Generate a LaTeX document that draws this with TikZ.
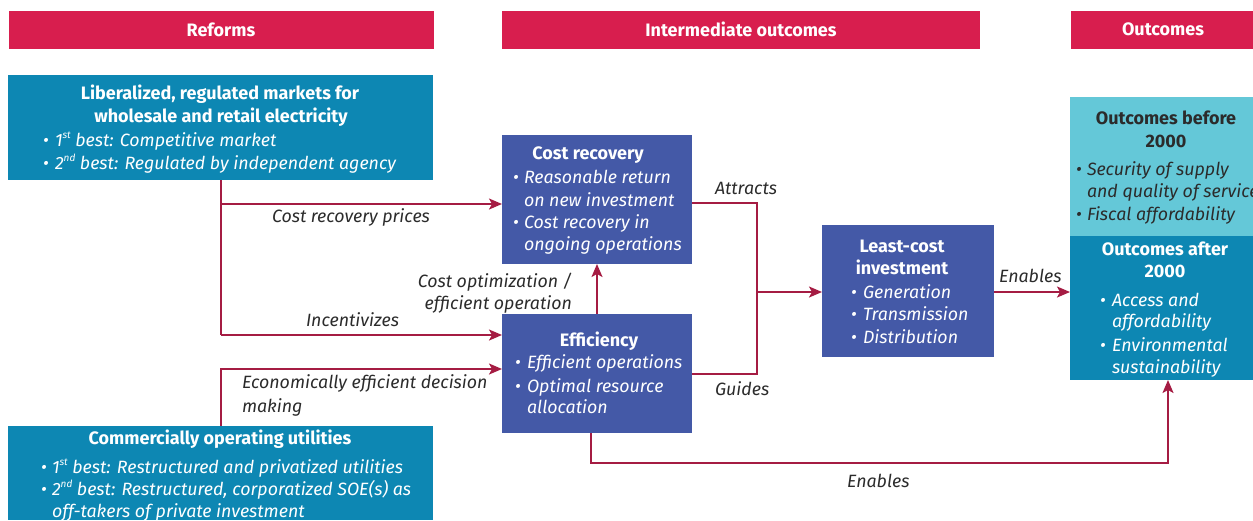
\documentclass[tikz,border=0pt]{standalone}
\usepackage{fontspec}
\setmainfont{Fira Sans}
\usetikzlibrary{arrows.meta}
\definecolor{hdr}{HTML}{D81E4E}
\definecolor{arrc}{HTML}{A51C43}
\definecolor{teal}{HTML}{0D87B3}
\definecolor{bluebx}{HTML}{4459A7}
\definecolor{lcyan}{HTML}{64C8D8}
\definecolor{txt}{HTML}{2B2B2B}
\newcommand{\sups}[1]{\raisebox{0.75ex}{\fontsize{10}{10}\selectfont #1}}
\begin{document}
\begin{tikzpicture}[x=1pt,y=-1pt,
  every node/.style={inner sep=0pt, outer sep=0pt},
  hdrbox/.style={fill=hdr, anchor=north west},
  bx/.style={anchor=north west},
  hdrtxt/.style={anchor=base, text=white, font=\fontsize{18}{21}\selectfont\bfseries},
  ttl/.style={anchor=base, text=white, font=\fontsize{18}{21}\selectfont\bfseries},
  ttld/.style={anchor=base, text=txt, font=\fontsize{18}{21}\selectfont\bfseries},
  bul/.style={anchor=base west, text=white, font=\fontsize{17.8}{21}\selectfont\itshape},
  buld/.style={anchor=base west, text=txt, font=\fontsize{17.8}{21}\selectfont\itshape},
  lbl/.style={anchor=base west, text=txt, font=\fontsize{17.8}{21}\selectfont\itshape},
  arr/.style={draw=arrc, line width=1.8pt, -{Stealth[length=13pt,width=11pt,inset=3pt]}},
  ln/.style={draw=arrc, line width=1.8pt}
]
\useasboundingbox (0,0) rectangle (1253,520);
\newcommand{\dotb}{\textbullet}
% headers
\node[hdrbox, minimum width=425pt, minimum height=38pt] (h1) at (9,11) {};
\node[hdrbox, minimum width=478pt, minimum height=38pt] (h2) at (502,11) {};
\node[hdrbox, minimum width=182pt, minimum height=38pt] (h3) at (1071,11) {};
\node[hdrtxt] (h1t) at (221,36) {Reforms};
\node[hdrtxt] (h2t) at (741,36) {Intermediate outcomes};
\node[hdrtxt] (h3t) at (1163,35) {Outcomes};
% boxes
\node[bx, fill=teal, minimum width=425pt, minimum height=105pt] (lib) at (8,75) {};
\node[bx, fill=teal, minimum width=425pt, minimum height=94pt] (com) at (8,426) {};
\node[bx, fill=bluebx, minimum width=190pt, minimum height=129pt] (cr) at (502,135) {};
\node[bx, fill=bluebx, minimum width=190pt, minimum height=119pt] (eff) at (502,314) {};
\node[bx, fill=bluebx, minimum width=172pt, minimum height=132pt] (lc) at (822,225) {};
\node[bx, fill=lcyan, minimum width=183pt, minimum height=139pt] (ob) at (1070,97) {};
\node[bx, fill=teal, minimum width=183pt, minimum height=144pt] (oa) at (1070,236) {};
% box texts: lib
\node[ttl] (libt1) at (220,99) {Liberalized, regulated markets for};
\node[ttl] (libt2) at (221,122) {wholesale and retail electricity};
\node[bul] (libd1) at (43,146) {\dotb};
\node[bul] (libb1) at (55,146) {1\sups{st} best: Competitive market};
\node[bul] (libd2) at (43,169) {\dotb};
\node[bul] (libb2) at (55,169) {2\sups{nd} best: Regulated by independent agency};
% com
\node[ttl] (comt) at (220,444) {Commercially operating utilities};
\node[bul] (comd1) at (41,473) {\dotb};
\node[bul] (comb1) at (52,473) {1\sups{st} best: Restructured and privatized utilities};
\node[bul] (comd2) at (41,495) {\dotb};
\node[bul] (comb2) at (52,495) {2\sups{nd} best: Restructured, corporatized SOE(s) as};
\node[bul] (comb3) at (52,517) {off-takers of private investment};
% cost recovery
\node[ttl] (crt) at (588,159) {Cost recovery};
\node[bul] (crd1) at (513,183) {\dotb};
\node[bul] (crb1) at (524,183) {Reasonable return};
\node[bul] (crb2) at (524,206) {on new investment};
\node[bul] (crd2) at (513,228) {\dotb};
\node[bul] (crb3) at (524,228) {Cost recovery in};
\node[bul] (crb4) at (524,250) {ongoing operations};
% efficiency
\node[ttl] (efft) at (599,346) {Efficiency};
\node[bul] (effd1) at (515,368) {\dotb};
\node[bul] (effb1) at (527,368) {Efficient operations};
\node[bul] (effd2) at (515,392) {\dotb};
\node[bul] (effb2) at (527,392) {Optimal resource};
\node[bul] (effb3) at (527,413) {allocation};
% least cost
\node[ttl] (lct1) at (902,252) {Least-cost};
\node[ttl] (lct2) at (902,274) {investment};
\node[bul] (lcd1) at (851,298) {\dotb};
\node[bul] (lcb1) at (863,298) {Generation};
\node[bul] (lcd2) at (851,320) {\dotb};
\node[bul] (lcb2) at (863,320) {Transmission};
\node[bul] (lcd3) at (851,343) {\dotb};
\node[bul] (lcb3) at (863,343) {Distribution};
% outcomes before
\node[ttld] (obt1) at (1166,124) {Outcomes before};
\node[ttld] (obt2) at (1166,147) {2000};
\node[buld] (obd1) at (1076,175) {\dotb};
\node[buld] (obb1) at (1087,175) {Security of supply};
\node[buld] (obb2) at (1087,197) {and quality of service};
\node[buld] (obd2) at (1076,220) {\dotb};
\node[buld] (obb3) at (1087,220) {Fiscal affordability};
% outcomes after
\node[ttl] (oat1) at (1165,255) {Outcomes after};
\node[ttl] (oat2) at (1165,277) {2000};
\node[bul] (oad1) at (1100,306) {\dotb};
\node[bul] (oab1) at (1112,306) {Access and};
\node[bul] (oab2) at (1112,327) {affordability};
\node[bul] (oad2) at (1100,351) {\dotb};
\node[bul] (oab3) at (1112,351) {Environmental};
\node[bul] (oab4) at (1112,373) {sustainability};
% connector labels
\node[lbl] (l1) at (272,222) {Cost recovery prices};
\node[lbl] (l2) at (306,326) {Incentivizes};
\node[lbl, anchor=base east] (l3) at (572,287) {Cost optimization /};
\node[lbl, anchor=base east] (l4) at (572,309) {efficient operation};
\node[lbl] (l5) at (242,388) {Economically efficient decision};
\node[lbl] (l6) at (242,412) {making};
\node[lbl] (l7) at (715,194) {Attracts};
\node[lbl] (l8) at (715,395) {Guides};
\node[lbl] (l9) at (999,282) {Enables};
\node[lbl] (l10) at (847,487) {Enables};
% coordinates
\coordinate (a1) at (221,204);
\coordinate (a2) at (221,335);
\coordinate (b1) at (221,369);
\coordinate (c1) at (757,203);
\coordinate (c2) at (757,374);
\coordinate (c3) at (757,292);
\coordinate (d1) at (591,463);
\coordinate (d2) at (1168,463);
% connectors
\draw[ln] (lib.south -| a1) -- (a2);
\draw[arr] (a1) -- (cr.west |- a1);
\draw[arr] (a2) -- (eff.west |- a2);
\draw[arr] (com.north -| b1) -- (b1) -- (eff.west |- b1);
\draw[arr] (eff.north -| 597,0) -- (cr.south -| 597,0);
\draw[ln] (cr.east |- c1) -- (c1) -- (c2) -- (eff.east |- c2);
\draw[arr] (c3) -- (lc.west |- c3);
\draw[arr] (lc.east |- c3) -- (oa.west |- c3);
\draw[arr] (eff.south -| d1) -- (d1) -- (d2) -- (oa.south -| d2);
\end{tikzpicture}
\end{document}
